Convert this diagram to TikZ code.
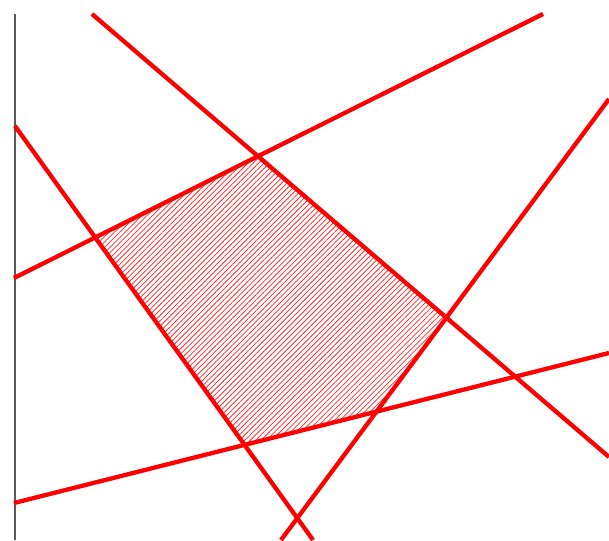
\documentclass[tikz,border=0pt]{standalone}
\usetikzlibrary{patterns.meta}
\begin{document}
\begin{tikzpicture}[x=1pt,y=-1pt,
  redline/.style={draw=red,line width=4.3pt},
  axisline/.style={draw=black!65,line width=1.3pt},
  hatch/.style={pattern={Lines[angle=45,distance=3.8pt,line width=0.75pt]},pattern color=red!85}]
\useasboundingbox (0,0) rectangle (609,540);
% line end points
\coordinate (a1) at (92,14);   \coordinate (a2) at (609,457);
\coordinate (b1) at (14,278);  \coordinate (b2) at (543,14);
\coordinate (c1) at (15,126);  \coordinate (c2) at (313,540);
\coordinate (d1) at (281,540); \coordinate (d2) at (609,99);
\coordinate (e1) at (14,503);  \coordinate (e2) at (609,353);
\coordinate (v1) at (15,14);   \coordinate (v2) at (15,540);
% vertices of hatched region
\coordinate (p1) at (intersection of b1--b2 and c1--c2);
\coordinate (p2) at (intersection of a1--a2 and b1--b2);
\coordinate (p3) at (intersection of a1--a2 and d1--d2);
\coordinate (p4) at (intersection of d1--d2 and e1--e2);
\coordinate (p5) at (intersection of c1--c2 and e1--e2);
\fill[hatch] (p1) -- (p2) -- (p3) -- (p4) -- (p5) -- cycle;
\draw[axisline] (v1) -- (v2);
\draw[redline] (a1) -- (a2);
\draw[redline] (b1) -- (b2);
\draw[redline] (c1) -- (c2);
\draw[redline] (d1) -- (d2);
\draw[redline] (e1) -- (e2);
\end{tikzpicture}
\end{document}
